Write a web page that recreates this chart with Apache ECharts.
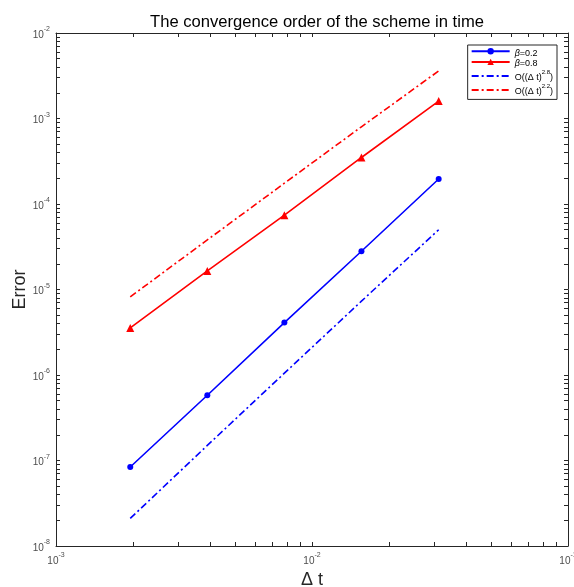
<!DOCTYPE html>
<html>
<head>
<meta charset="utf-8">
<script src="https://cdn.jsdelivr.net/npm/echarts@6/dist/echarts.min.js"></script>
<style>
  html, body { margin: 0; padding: 0; background: #fff; }
  #chart { width: 574px; height: 587px; }
</style>
</head>
<body>
<div id="chart"></div>
<script>
// time steps (Δt) and errors
const dt = [0.00195, 0.0039, 0.0078, 0.0156, 0.03125];
const errBeta02 = [8.4e-8, 5.8e-7, 4.1e-6, 2.8e-5, 1.96e-4];
const errBeta08 = [3.55e-6, 1.65e-5, 7.4e-5, 3.5e-4, 1.6e-3];
const refOrder28 = [2.1e-8, 1.5e-7, 1.05e-6, 7.3e-6, 5.0e-5];
const refOrder22 = [8.2e-6, 3.8e-5, 1.75e-4, 8.0e-4, 3.6e-3];

// decade exponents for the tick labels
const xDecades = [-3, -2, -1];
const yDecades = [-8, -7, -6, -5, -4, -3, -2];

// axes are value axes over log10 of the data (MATLAB-like loglog)
const minorsOf = (decs) => {
  const out = [];
  for (let i = 0; i < decs.length - 1; i++) {
    for (let k = 2; k <= 9; k++) out.push(decs[i] + Math.log10(k));
  }
  return out;
};
const xMinor = minorsOf(xDecades);
const yMinor = minorsOf(yDecades);

const FONT = "Liberation Sans";
const LINE = "#262626";

const powLabel = (v) => "{b|10}{s|" + Math.round(v) + "}";
const labelRich = {
  b: { fontSize: 10, color: "#4d4d4d", fontFamily: FONT, lineHeight: 14, verticalAlign: "bottom" },
  s: { fontSize: 7, color: "#4d4d4d", fontFamily: FONT, lineHeight: 14, verticalAlign: "top" },
};

const toPairs = (ys) => dt.map((x, i) => [Math.log10(x), Math.log10(ys[i])]);

// one axis per side (two on one side hide the ticks); decades + 2..9 multiples as custom ticks
const makeAxis = (pos, decs, minor, withLabel, extra) =>
  Object.assign(
    {
      type: "value",
      position: pos,
      min: decs[0],
      max: decs[decs.length - 1],
      interval: 1,
      axisLine: { show: true, onZero: false, lineStyle: { color: LINE, width: 1 } },
      axisTick: { show: true, inside: true, length: 4, customValues: decs.concat(minor), lineStyle: { color: LINE, width: 1 } },
      axisLabel: withLabel
        ? { show: true, formatter: powLabel, rich: labelRich, margin: 6, customValues: decs }
        : { show: false },
      splitLine: { show: false },
    },
    extra || {}
  );

const option = {
  animation: false,
  title: {
    text: "The convergence order of the scheme in time",
    left: 312,
    textAlign: "center",
    top: 9,
    textStyle: { fontSize: 16.6, fontWeight: "normal", color: "#000", fontFamily: FONT },
  },
  grid: { left: 56, right: 6, top: 33, bottom: 41, outerBoundsMode: "none" },
  legend: {
    orient: "vertical",
    right: 17,
    top: 45,
    itemWidth: 38,
    itemHeight: 8,
    itemGap: 1,
    padding: [3, 4, 3, 3],
    borderColor: "#262626",
    borderWidth: 1,
    backgroundColor: "#fff",
    data: [
      "b02",
      "b08",
      { name: "r28", itemStyle: { opacity: 0 } },
      { name: "r22", itemStyle: { opacity: 0 } },
    ],
    formatter: (name) =>
      ({
        b02: "{g|β}{t|=0.2}",
        b08: "{g|β}{t|=0.8}",
        r28: "{t|O((Δ t)}{s|2.8}{t|)}",
        r22: "{t|O((Δ t)}{s|2.2}{t|)}",
      })[name],
    textStyle: {
      rich: {
        g: { fontSize: 9, fontStyle: "italic", fontFamily: FONT, color: "#000", lineHeight: 13, verticalAlign: "bottom" },
        t: { fontSize: 9, fontFamily: FONT, color: "#000", lineHeight: 13, verticalAlign: "bottom" },
        s: { fontSize: 6, fontFamily: FONT, color: "#000", lineHeight: 13, verticalAlign: "top" },
      },
    },
  },
  xAxis: [
    makeAxis("bottom", xDecades, xMinor, true, {
      name: "Δ t",
      nameLocation: "middle",
      nameGap: 22,
      nameTextStyle: { fontSize: 18, color: "#262626", fontFamily: FONT },
    }),
    makeAxis("top", xDecades, xMinor, false),
  ],
  yAxis: [
    makeAxis("left", yDecades, yMinor, true, {
      name: "Error",
      nameLocation: "middle",
      nameGap: 27,
      nameMoveOverlap: false,
      nameTextStyle: { fontSize: 18, color: "#262626", fontFamily: FONT },
    }),
    makeAxis("right", yDecades, yMinor, false),
  ],
  series: [
    {
      name: "b02",
      type: "line",
      data: toPairs(errBeta02),
      symbol: "circle",
      symbolSize: 6,
      itemStyle: { color: "#0000ff" },
      lineStyle: { color: "#0000ff", width: 1.6 },
    },
    {
      name: "b08",
      type: "line",
      data: toPairs(errBeta08),
      symbol: "triangle",
      symbolSize: 8,
      itemStyle: { color: "#ff0000" },
      lineStyle: { color: "#ff0000", width: 1.6 },
    },
    {
      name: "r28",
      type: "line",
      data: toPairs(refOrder28),
      symbol: "none",
      itemStyle: { color: "#0000ff" },
      lineStyle: { color: "#0000ff", width: 1.6, type: [7, 3, 2, 3] },
    },
    {
      name: "r22",
      type: "line",
      data: toPairs(refOrder22),
      symbol: "none",
      itemStyle: { color: "#ff0000" },
      lineStyle: { color: "#ff0000", width: 1.6, type: [7, 3, 2, 3] },
    },
  ],
};

const chart = echarts.init(document.getElementById("chart"));
chart.setOption(option);
</script>
</body>
</html>
